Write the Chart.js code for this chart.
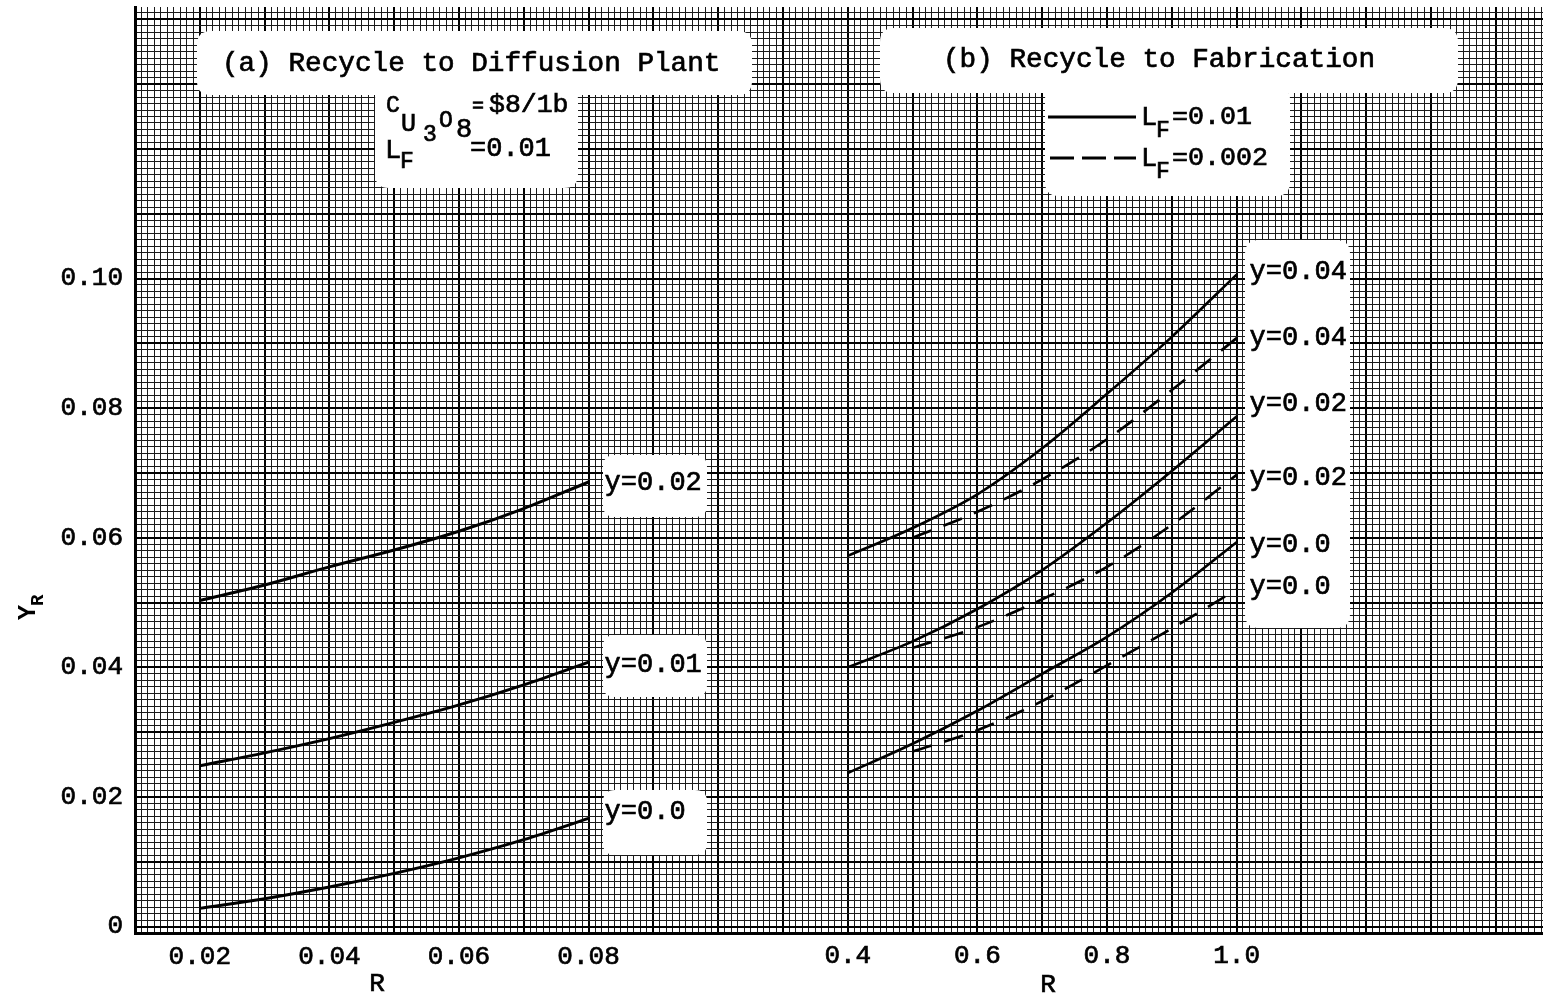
<!DOCTYPE html>
<html><head><meta charset="utf-8">
<script src="https://cdn.jsdelivr.net/npm/chart.js@4.4.1/dist/chart.umd.min.js"></script>
<style>html,body{margin:0;padding:0;background:#fff;}canvas{display:block;}</style>
</head><body>
<canvas id="c" width="1543" height="995" style="width:1543px;height:995px"></canvas>
<script>
const FONT = "'Liberation Mono','Courier New',monospace";

// ---- Panel (a): Recycle to Diffusion Plant (R from 0.02 to 0.08)
const rA = [0.02, 0.03, 0.04, 0.05, 0.06, 0.07, 0.08];
const aY002 = [0.0503, 0.0527, 0.0555, 0.0581, 0.0610, 0.0645, 0.0686];
const aY001 = [0.0248, 0.0268, 0.0290, 0.0315, 0.0342, 0.0373, 0.0408];
const aY000 = [0.0028, 0.0043, 0.0061, 0.0082, 0.0106, 0.0134, 0.0167];
const aLabels = ['y=0.02', 'y=0.01', 'y=0.0'];
const aLabelY = [0.0684, 0.0404, 0.0177];

// ---- Panel (b): Recycle to Fabrication (R from 0.4 to 1.0)
const rBsolid = [0.4, 0.5, 0.6, 0.7, 0.8, 0.9, 1.0];
const bSolid004 = [0.0572, 0.0615, 0.0667, 0.0738, 0.0822, 0.0910, 0.1006];
const bSolid002 = [0.0400, 0.0440, 0.0490, 0.0550, 0.0623, 0.0703, 0.0787];
const bSolid000 = [0.0237, 0.0282, 0.0333, 0.0390, 0.0447, 0.0515, 0.0593];
const rBdash = [0.5, 0.6, 0.7, 0.8, 0.9, 1.0];
const bDash004 = [0.0600, 0.0640, 0.0690, 0.0752, 0.0828, 0.0908];
const bDash002 = [0.0430, 0.0462, 0.0505, 0.0555, 0.0620, 0.0697];
const bDash000 = [0.0270, 0.0303, 0.0348, 0.0403, 0.0460, 0.0520];
const bLabels = ['y=0.04', 'y=0.04', 'y=0.02', 'y=0.02', 'y=0.0', 'y=0.0'];
const bLabelY = [0.1010, 0.0908, 0.0806, 0.0692, 0.0589, 0.0524];

// ---- Tick labels
const leftTickValues = [0.02, 0.04, 0.06, 0.08];
const leftTickLabels = ['0.02', '0.04', '0.06', '0.08'];
const rightTickValues = [0.4, 0.6, 0.8, 1.0];
const rightTickLabels = ['0.4', '0.6', '0.8', '1.0'];
const yTickValues = [0, 0.02, 0.04, 0.06, 0.08, 0.10];
const yTickLabels = ['0', '0.02', '0.04', '0.06', '0.08', '0.10'];

// ---- Axis ranges (graph paper)
const XA_MIN = 0.01, XA_MAX = 0.2273;
const XB_MIN = -0.7, XB_MAX = 1.4728;
const Y_MIN = -0.001, Y_MAX = 0.1419;

function gridTicks(kFrom, kTo, values, labels) {
  const out = [];
  for (let k = kFrom; k <= kTo; k++) {
    const v = k / 1000;
    const idx = values.findIndex(t => Math.round(t * 1000) === k);
    out.push({ value: v, big: k % 10 === 0, lab: idx >= 0 ? labels[idx] : '' });
  }
  return out;
}

function pts(xs, ys) { return xs.map((x, i) => ({ x: x, y: ys[i] })); }
function ds(label, xs, ys, axis, dashed, w) {
  return { label, data: pts(xs, ys), xAxisID: axis, yAxisID: 'y', showLine: true,
    borderColor: '#000', backgroundColor: '#000', borderWidth: w,
    borderDash: dashed ? [20, 13] : [], pointRadius: 0, fill: false,
    cubicInterpolationMode: 'monotone', borderCapStyle: 'butt' };
}

const gridOpts = {
  color: c => (c.tick && c.tick.big) ? '#000' : '#1a1a1a',
  lineWidth: c => (c.tick && c.tick.big) ? 2 : 1,
  drawTicks: false
};
const tickFont = { family: FONT, size: 26 };

function rr(ctx, x, y, w, h, r) {
  ctx.beginPath();
  ctx.moveTo(x + r, y);
  ctx.lineTo(x + w - r, y);
  ctx.quadraticCurveTo(x + w, y, x + w, y + r);
  ctx.lineTo(x + w, y + h - r);
  ctx.quadraticCurveTo(x + w, y + h, x + w - r, y + h);
  ctx.lineTo(x + r, y + h);
  ctx.quadraticCurveTo(x, y + h, x, y + h - r);
  ctx.lineTo(x, y + r);
  ctx.quadraticCurveTo(x, y, x + r, y);
  ctx.closePath();
  ctx.fill();
}
function txt(ctx, s, x, cy, size) {
  ctx.font = size + 'px ' + FONT;
  ctx.textBaseline = 'middle';
  ctx.textAlign = 'left';
  ctx.lineWidth = 0.7;
  ctx.strokeStyle = '#000';
  ctx.fillText(s, x, cy);
  ctx.strokeText(s, x, cy);
  return x + ctx.measureText(s).width;
}

const annot = {
  id: 'annot',
  afterDatasetsDraw(chart) {
    const ctx = chart.ctx;
    const xa = chart.scales.xa, xb = chart.scales.xb, y = chart.scales.y;
    ctx.save();
    ctx.fillStyle = '#fff';
    // title boxes
    rr(ctx, 197, 31, 555, 64, 14);
    rr(ctx, 375, 86, 203, 102, 14);
    rr(ctx, 880, 28, 578, 65, 14);
    rr(ctx, 1045, 86, 245, 110, 14);
    // label boxes panel (a)
    rr(ctx, 603, 455, 104, 62, 12);
    rr(ctx, 603, 635, 104, 62, 12);
    rr(ctx, 603, 790, 104, 65, 12);
    // label box panel (b)
    rr(ctx, 1245, 240, 105, 388, 14);

    ctx.fillStyle = '#000';
    txt(ctx, '(a) Recycle to Diffusion Plant', 222, 64, 27.7);
    txt(ctx, '(b) Recycle to Fabrication', 943, 60, 27.7);
    // C_{U3O8} = $8/lb , L_F = 0.01
    txt(ctx, 'C', 386, 106, 23);
    txt(ctx, 'U', 401, 124, 25);
    txt(ctx, '3', 423, 135, 23);
    txt(ctx, 'O', 439, 121, 23);
    txt(ctx, '8', 456, 130, 27);
    txt(ctx, '=', 472, 107, 20);
    txt(ctx, '$8/1b', 489, 105, 26.5);
    txt(ctx, 'L', 385, 151, 27);
    txt(ctx, 'F', 400, 162, 23);
    txt(ctx, '=0.01', 470, 149, 27);
    // legend
    ctx.strokeStyle = '#000';
    ctx.lineWidth = 3;
    ctx.beginPath(); ctx.moveTo(1048, 117); ctx.lineTo(1136, 117); ctx.stroke();
    ctx.setLineDash([24, 8]);
    ctx.beginPath(); ctx.moveTo(1050, 158); ctx.lineTo(1136, 158); ctx.stroke();
    ctx.setLineDash([]);
    txt(ctx, 'L', 1141, 118, 27);
    txt(ctx, 'F', 1156, 131, 23);
    txt(ctx, '=0.01', 1172, 117, 26.7);
    txt(ctx, 'L', 1141, 159, 27);
    txt(ctx, 'F', 1156, 172, 23);
    txt(ctx, '=0.002', 1172, 158, 26.7);

    // curve labels
    const xl = xa.getPixelForValue(rA[rA.length - 1]) + 16;
    aLabels.forEach((s, i) => txt(ctx, s, xl, y.getPixelForValue(aLabelY[i]), 27));
    const xr = xb.getPixelForValue(rBsolid[rBsolid.length - 1]) + 13;
    bLabels.forEach((s, i) => txt(ctx, s, xr, y.getPixelForValue(bLabelY[i]), 27));
    ctx.restore();
  },
  afterDraw(chart) {
    const ctx = chart.ctx;
    const xb = chart.scales.xb;
    ctx.save();
    ctx.fillStyle = '#000';
    ctx.strokeStyle = '#000';
    ctx.lineWidth = 0.7;
    ctx.font = '26px ' + FONT;
    ctx.textAlign = 'center';
    ctx.textBaseline = 'middle';
    // tick labels of the panel (b) axis, from its own ticks
    xb.ticks.forEach(t => {
      const px = xb.getPixelForValue(t.value);
      ctx.fillText(t.lab, px, 956);
      ctx.strokeText(t.lab, px, 956);
    });
    ctx.fillText('R', 377, 984); ctx.strokeText('R', 377, 984);
    ctx.fillText('R', 1048, 985); ctx.strokeText('R', 1048, 985);
    // Y_R rotated
    ctx.translate(32, 608);
    ctx.rotate(-Math.PI / 2);
    ctx.textAlign = 'left';
    ctx.font = 'bold 25px ' + FONT;
    ctx.fillText('Y', -12, -3);
    ctx.font = 'bold 19px ' + FONT;
    ctx.fillText('R', 2, 6);
    ctx.restore();
  }
};

new Chart(document.getElementById('c'), {
  type: 'scatter',
  data: {
    datasets: [
      ds('a y=0.02', rA, aY002, 'xa', false, 3),
      ds('a y=0.01', rA, aY001, 'xa', false, 3),
      ds('a y=0.0', rA, aY000, 'xa', false, 3),
      ds('b y=0.04 LF=0.01', rBsolid, bSolid004, 'xb', false, 2.6),
      ds('b y=0.02 LF=0.01', rBsolid, bSolid002, 'xb', false, 2.6),
      ds('b y=0.0 LF=0.01', rBsolid, bSolid000, 'xb', false, 2.6),
      ds('b y=0.04 LF=0.002', rBdash, bDash004, 'xb', true, 2.6),
      ds('b y=0.02 LF=0.002', rBdash, bDash002, 'xb', true, 2.6),
      ds('b y=0.0 LF=0.002', rBdash, bDash000, 'xb', true, 2.6)
    ]
  },
  options: {
    responsive: false,
    animation: false,
    events: [],
    layout: { autoPadding: false, padding: { top: 7, left: 0, right: 0, bottom: 0 } },
    plugins: { legend: { display: false }, tooltip: { enabled: false } },
    scales: {
      xb: {
        type: 'linear', position: 'bottom', display: false, min: XB_MIN, max: XB_MAX,
        afterBuildTicks: s => { s.ticks = rightTickValues.map((v, i) => ({ value: v, lab: rightTickLabels[i] })); },
        grid: { display: false }
      },
      xa: {
        type: 'linear', position: 'bottom', min: XA_MIN, max: XA_MAX,
        afterBuildTicks: s => { s.ticks = gridTicks(10, 227, leftTickValues, leftTickLabels); },
        afterFit: s => { s.height = 62; s.paddingLeft = 0; s.paddingRight = 0; s.paddingTop = 0; s.paddingBottom = 0; },
        grid: gridOpts,
        border: { color: '#000', width: 3 },
        ticks: { autoSkip: false, maxRotation: 0, minRotation: 0, padding: 9, color: '#000', font: tickFont,
                 textStrokeColor: '#000', textStrokeWidth: 0.7,
                 callback: (v, i, t) => t[i].lab || '' }
      },
      y: {
        type: 'linear', position: 'left', min: Y_MIN, max: Y_MAX,
        afterBuildTicks: s => { s.ticks = gridTicks(-1, 141, yTickValues, yTickLabels); },
        afterFit: s => { s.width = 135; s.paddingLeft = 0; s.paddingRight = 0; s.paddingTop = 0; s.paddingBottom = 0; },
        grid: gridOpts,
        border: { color: '#000', width: 3 },
        ticks: { autoSkip: false, padding: 12, color: '#000', font: tickFont,
                 textStrokeColor: '#000', textStrokeWidth: 0.7,
                 callback: (v, i, t) => t[i].lab || '' }
      }
    }
  },
  plugins: [annot]
});
</script>
</body></html>
